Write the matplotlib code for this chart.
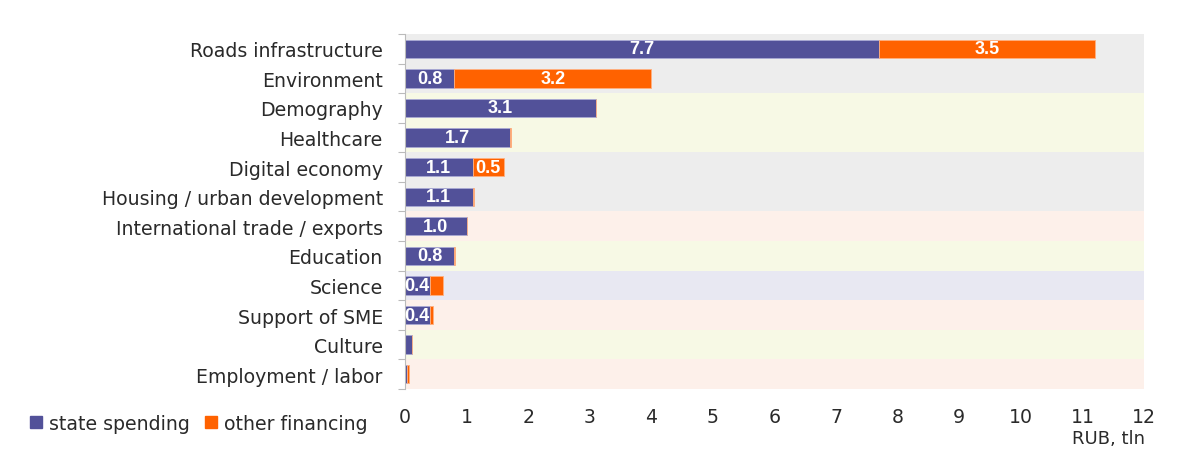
import matplotlib.pyplot as plt
from matplotlib.patches import Patch

# National projects financing, RUB tln
categories = ['Roads infrastructure', 'Environment', 'Demography', 'Healthcare',
              'Digital economy', 'Housing / urban development',
              'International trade / exports', 'Education', 'Science',
              'Support of SME', 'Culture', 'Employment / labor']
state_spending = [7.7, 0.8, 3.1, 1.7, 1.1, 1.1, 1.0, 0.8, 0.4, 0.4, 0.11, 0.04]
other_financing = [3.5, 3.2, 0.0, 0.02, 0.5, 0.02, 0.0, 0.02, 0.22, 0.05, 0.0, 0.03]
row_colors = ['#ededed', '#ededed', '#f7f9e5', '#f7f9e5', '#ededed', '#ededed',
              '#fdf0ea', '#f7f9e5', '#e8e8f2', '#fdf0ea', '#f7f9e5', '#fdf0ea']

PURPLE = '#525199'
ORANGE = '#ff6200'
FONT = 'DejaVu Sans'
SIZE = 13.6
TEXT = '#2a2a2a'

fig = plt.figure(figsize=(12, 4.6), dpi=100)
ax = fig.add_axes([0.3375, 0.1522, 0.6158, 0.7717])

ypos = list(range(len(categories)))

# background bands per row
for y, c in zip(ypos, row_colors):
    ax.axhspan(y - 0.5, y + 0.5, color=c, lw=0, zorder=0)

ax.barh(ypos, state_spending, height=0.62, color=PURPLE,
        edgecolor='#a9a9d4', linewidth=0.6, zorder=2)
ax.barh(ypos, other_financing, left=state_spending, height=0.62, color=ORANGE,
        edgecolor='#ffb080', linewidth=0.6, zorder=2)

# value labels
for y, s, o in zip(ypos, state_spending, other_financing):
    if s >= 0.3:
        ax.text(s / 2, y, f'{s:.1f}', color='white', fontweight='bold',
                fontsize=13, family='Liberation Sans', ha='center', va='center', zorder=3)
    if o >= 0.3:
        ax.text(s + o / 2, y, f'{o:.1f}', color='white', fontweight='bold',
                fontsize=13, family='Liberation Sans', ha='center', va='center', zorder=3)

ax.set_xlim(0, 12)
ax.set_ylim(len(categories) - 0.5, -0.5)
ax.set_xticks(range(0, 13))
ax.set_yticks(ypos)
ax.set_yticklabels(categories, family=FONT, fontsize=SIZE, color=TEXT)
ax.set_yticks([y - 0.5 for y in ypos] + [len(categories) - 0.5], minor=True)
ax.tick_params(axis='y', which='major', length=0, pad=16)
ax.tick_params(axis='y', which='minor', length=5, color='#bbbbbb', width=0.8)
ax.tick_params(axis='x', length=0, pad=13, labelsize=SIZE)
for lab in ax.get_xticklabels():
    lab.set_family(FONT)
    lab.set_color(TEXT)

for side in ['top', 'right', 'bottom']:
    ax.spines[side].set_visible(False)
ax.spines['left'].set_color('#bbbbbb')
ax.spines['left'].set_linewidth(0.8)

fig.text(0.954, 0.025, 'RUB, tln', ha='right', va='bottom', family=FONT,
         fontsize=13, color=TEXT)

handles = [Patch(color=PURPLE, label='state spending'),
           Patch(color=ORANGE, label='other financing')]
fig.legend(handles=handles, loc='lower left', bbox_to_anchor=(0.011, 0.02),
           ncol=2, frameon=False, handlelength=0.65, handleheight=0.65,
           handletextpad=0.35, columnspacing=0.8,
           prop={'family': FONT, 'size': SIZE}, labelcolor=TEXT)

fig.savefig('out.png', dpi=100)
